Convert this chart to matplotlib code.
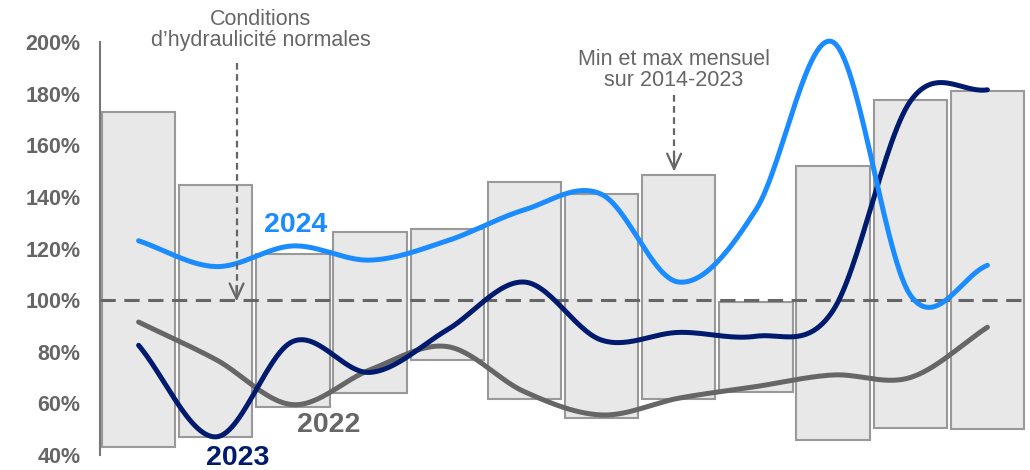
"""Hydraulicité mensuelle 2022-2024 vs min/max 2014-2023."""

import matplotlib.pyplot as plt
import numpy as np

plt.rcParams["font.family"] = ["Liberation Sans", "DejaVu Sans"]

months = list(range(12))
# min / max mensuel sur 2014-2023 (% de la normale)
band_min = [43, 47, 58.6, 64, 76.8, 61.7, 54.3, 61.7, 64.4, 45.8, 50.5, 50]
band_max = [173, 144.6, 118, 126.5, 127.6, 145.8, 141, 148.5, 99.3, 152, 177.6, 181]
y2024 = [123, 113, 121, 115.5, 123, 135, 141, 107, 135, 200, 102, 113.5]
y2023 = [82.5, 47, 84, 72, 88.5, 107, 84.5, 87.5, 86, 96, 177, 181.5]
y2022 = [91.5, 77, 59.5, 73, 82, 64.5, 55.5, 62, 66.5, 71, 70, 89.5]
yticks = [40, 60, 80, 100, 120, 140, 160, 180, 200]

GRAY = "#666666"
NAVY = "#001b6e"
BLUE = "#1a8cff"


def smooth(x, y, n=30):
    # Catmull-Rom through the monthly points (Excel-style smoothed line)
    x = np.asarray(x, float)
    y = np.asarray(y, float)
    px = np.concatenate([[2 * x[0] - x[1]], x, [2 * x[-1] - x[-2]]])
    py = np.concatenate([[2 * y[0] - y[1]], y, [2 * y[-1] - y[-2]]])
    xs, ys = [], []
    t = np.linspace(0, 1, n)
    for i in range(1, len(px) - 2):
        for p, out in ((px, xs), (py, ys)):
            p0, p1, p2, p3 = p[i - 1], p[i], p[i + 1], p[i + 2]
            out.append(0.5 * (2 * p1 + (-p0 + p2) * t + (2 * p0 - 5 * p1 + 4 * p2 - p3) * t**2
                              + (-p0 + 3 * p1 - 3 * p2 + p3) * t**3))
    return np.concatenate(xs), np.concatenate(ys)


def dashed_arrow(x, y0, y1):
    ax.plot([x, x], [y0, y1 + 2], color=GRAY, lw=1.6, ls=(0, (3, 2)), clip_on=False, zorder=4)
    ax.annotate("", xy=(x, y1), xytext=(x, y1 + 6), annotation_clip=False,
                arrowprops=dict(arrowstyle="->,head_length=1.1,head_width=0.5",
                                color=GRAY, lw=1.6, shrinkA=0, shrinkB=0), zorder=4)


fig = plt.figure(figsize=(10.3, 4.7), dpi=100)
ax = fig.add_axes([0.0971, 0.032, 0.899, 0.8785])

heights = np.array(band_max) - np.array(band_min)
ax.bar(months, heights, bottom=band_min, width=0.95, color="#e8e8e8",
       edgecolor="#999999", linewidth=1.5, zorder=1)
ax.axhline(100, color=GRAY, lw=2.2, ls=(0, (5, 2.8)), zorder=2)

for vals, col in ((y2022, GRAY), (y2023, NAVY), (y2024, BLUE)):
    sx, sy = smooth(months, vals)
    ax.plot(sx, sy, color=col, lw=3.6, solid_capstyle="round", clip_on=False, zorder=3)

ax.set_xlim(-0.5, 11.5)
ax.set_ylim(40, 200)
ax.set_xticks([])
ax.set_yticks(yticks)
ax.set_yticklabels([f"{v}%" for v in yticks], fontsize=15.5, fontweight="bold", color=GRAY)
ax.tick_params(axis="y", length=0, pad=14)
for s in ("top", "right", "bottom"):
    ax.spines[s].set_visible(False)
ax.spines["left"].set_color("#777777")
ax.spines["left"].set_linewidth(1.5)

ax.text(2.03, 129, "2024", color=BLUE, fontsize=20.5, fontweight="bold", ha="center", va="center")
ax.text(2.46, 51.6, "2022", color=GRAY, fontsize=20.5, fontweight="bold", ha="center", va="center")
ax.text(1.28, 39, "2023", color=NAVY, fontsize=20.5, fontweight="bold", ha="center", va="center",
        clip_on=False)

ax.text(1.58, 204.7, "Conditions\nd’hydraulicité normales", ha="center", va="center",
        fontsize=15.5, color=GRAY, linespacing=1.0, clip_on=False)
dashed_arrow(1.27, 192, 99.5)
ax.text(6.94, 189, "Min et max mensuel\nsur 2014-2023", ha="center", va="center",
        fontsize=15.5, color=GRAY, linespacing=1.0, clip_on=False)
dashed_arrow(6.94, 179.5, 149.8)

fig.savefig("out.png", dpi=100)
